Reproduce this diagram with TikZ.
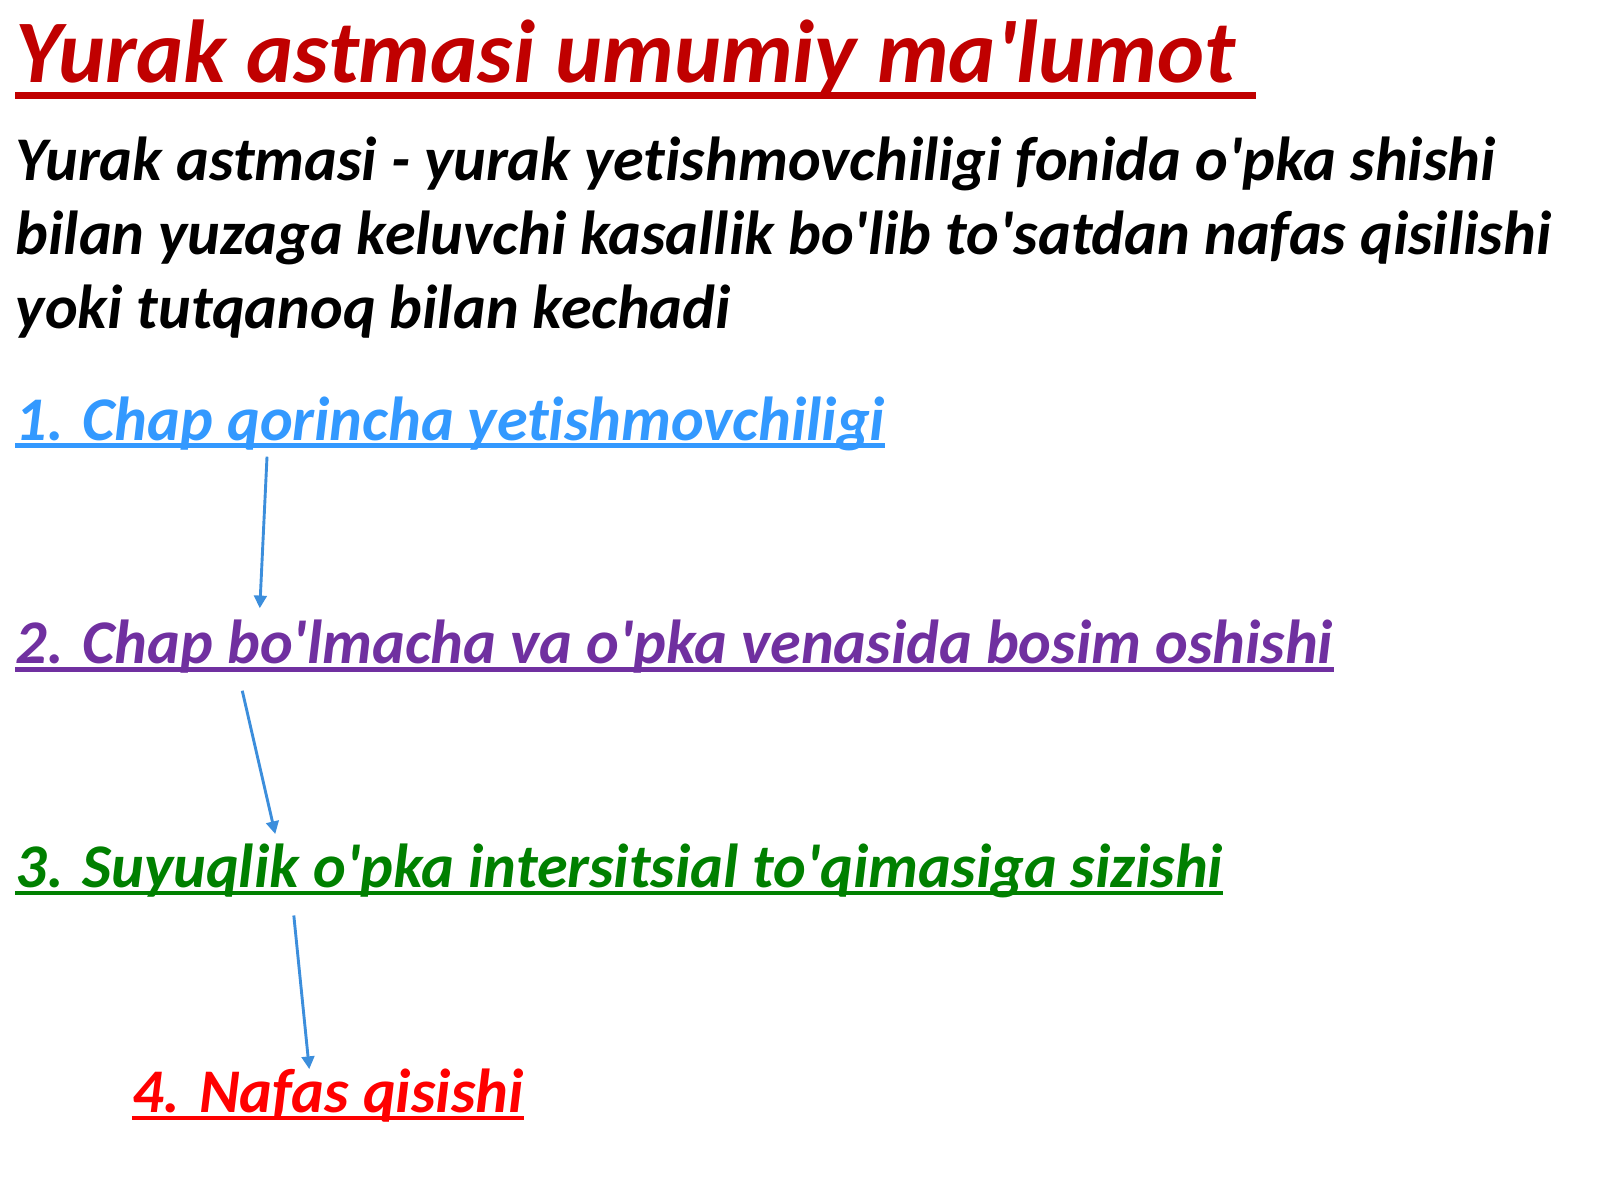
\documentclass[tikz,border=0pt]{standalone}
\usepackage{fontspec}
\setmainfont{Carlito}[Ligatures={TeXOff,NoCommon}]
\usetikzlibrary{arrows.meta}
\definecolor{titlered}{HTML}{C00000}
\definecolor{stepblue}{RGB}{51,153,255}
\definecolor{steppurple}{HTML}{7030A0}
\definecolor{stepgreen}{HTML}{008000}
\definecolor{stepred}{HTML}{FF0000}
\definecolor{arrowblue}{RGB}{60,142,220}
\tikzset{
  txt/.style={anchor=base west, inner sep=0pt, font=\bfseries\itshape\fontsize{34.3}{41}\selectfont},
  uline/.style={line width=2.4pt},
  flow/.style={arrowblue, line width=1.6pt, -{Triangle[length=7pt,width=7pt]}}
}
\begin{document}
\begin{tikzpicture}[x=0.02cm,y=-0.02cm]
  \useasboundingbox (0,0) rectangle (1552,1164);
  \node[txt, titlered, font=\bfseries\itshape\fontsize{49.3}{59}\selectfont] (title) at (15,80) {Yurak astmasi umumiy ma'lumot};
  \node[txt, align=left] (defn) at (15,319) {Yurak astmasi - yurak yetishmovchiligi fonida o'pka shishi\\
    bilan yuzaga keluvchi kasallik bo'lib to'satdan nafas qisilishi\\
    yoki tutqanoq bilan kechadi};
  \node[txt, stepblue] (item1) at (15,427) {1. Chap qorincha yetishmovchiligi};
  \node[txt, steppurple] (item2) at (15,644) {2. Chap bo'lmacha va o'pka venasida bosim oshishi};
  \node[txt, stepgreen] (item3) at (15,861) {3. Suyuqlik o'pka intersitsial to'qimasiga sizishi};
  \node[txt, stepred] (item4) at (128,1079) {4. Nafas qisishi};
  % underlines
  \draw[titlered, line width=3.8pt] ([yshift=-7pt]title.base west) -- ([xshift=11pt,yshift=-7pt]title.base east);
  \draw[stepblue, uline] ([yshift=-3pt]item1.base west) -- ([yshift=-3pt]item1.base east);
  \draw[steppurple, uline] ([yshift=-3pt]item2.base west) -- ([yshift=-3pt]item2.base east);
  \draw[stepgreen, uline] ([yshift=-3pt]item3.base west) -- ([yshift=-3pt]item3.base east);
  \draw[stepred, uline] ([yshift=-3pt]item4.base west) -- ([yshift=-3pt]item4.base east);
  % arrows
  \draw[flow] ([shift={(244,16)}]item1.base west) -- ([shift={(237,-54)}]item2.base west);
  \draw[flow] ([shift={(220,26)}]item2.base west) -- ([shift={(252,-52)}]item3.base west);
  \draw[flow] ([shift={(270,27)}]item3.base west) -- ([shift={(172,-42)}]item4.base west);
\end{tikzpicture}
\end{document}
